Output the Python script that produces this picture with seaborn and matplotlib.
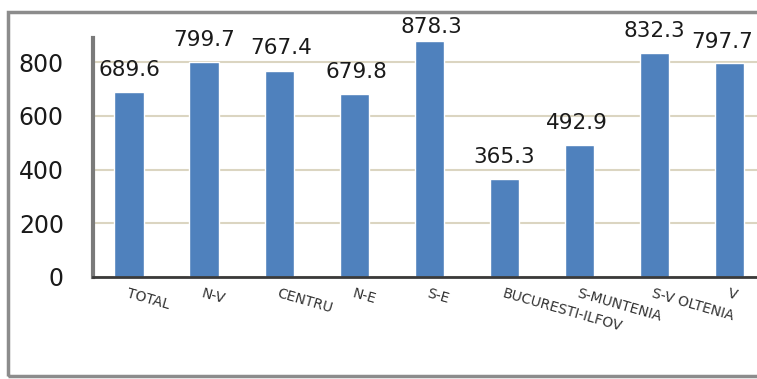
import matplotlib
matplotlib.use("Agg")
import matplotlib.pyplot as plt
from matplotlib.patches import Rectangle
import seaborn as sns
import pandas as pd

# Regions and their values
regions = ["TOTAL", "N-V", "CENTRU", "N-E", "S-E",
           "BUCURESTI-ILFOV", "S-MUNTENIA", "S-V OLTENIA", "V"]
values = [689.6, 799.7, 767.4, 679.8, 878.3, 365.3, 492.9, 832.3, 797.7]
y_ticks = [0, 200, 400, 600, 800]

# Label placement (pixels above / beside each bar top)
label_dy = [22, 22, 23, 22, 14, 22, 22, 22, 21]
label_dx = [0, 0, 2, 2, 2, 0, -2, 0, -7]

df = pd.DataFrame({"region": regions, "value": values})

sns.set_style("white")
plt.rcParams["font.family"] = ["DejaVu Sans"]

W, H = 757, 379
fig = plt.figure(figsize=(W / 100, H / 100), dpi=100)
fig.patch.set_facecolor("white")

# plot area in pixel terms
left_px, right_px = 93, 767
top_px, bottom_px = 38, 277
ax = fig.add_axes([left_px / W, (H - bottom_px) / H,
                   (right_px - left_px) / W, (bottom_px - top_px) / H])

sns.barplot(data=df, x="region", y="value", color="#4f81bd",
            width=0.39, saturation=1, errorbar=None, ax=ax)

ax.set_xlim(-0.48, 8.5)
ax.set_ylim(0, 890)
ax.set_yticks(y_ticks)
ax.set_xlabel("")
ax.set_ylabel("")

ax.yaxis.grid(True, color="#dbd5c1", linewidth=1.5)
ax.xaxis.grid(False)
ax.set_axisbelow(True)

for side in ("top", "right"):
    ax.spines[side].set_visible(False)
ax.spines["left"].set_color("#7a7a7a")
ax.spines["left"].set_linewidth(3)
ax.spines["bottom"].set_color("#3a3a3a")
ax.spines["bottom"].set_linewidth(2)

ax.tick_params(axis="y", length=0, pad=21, labelsize=17, labelcolor="#1a1a1a")
ax.tick_params(axis="x", length=0, pad=7, labelsize=10, labelcolor="#333333")
for lbl in ax.get_xticklabels():
    lbl.set_rotation(-16)
    lbl.set_ha("left")
    lbl.set_va("top")
    lbl.set_rotation_mode("anchor")

# value labels above bars
for i, v in enumerate(values):
    ax.annotate(f"{v:.1f}", xy=(i, v), xytext=(label_dx[i], label_dy[i]),
                textcoords="offset pixels", ha="center", va="center",
                fontsize=15.5, color="#1a1a1a", annotation_clip=False)

# outer chart frame
fig.patches.append(Rectangle((7.5 / W, 3 / H), 1.05, (376 - 12) / H,
                             transform=fig.transFigure, fill=False,
                             edgecolor="#8c8c8c", linewidth=2.5))

fig.savefig("out.png", dpi=100)
